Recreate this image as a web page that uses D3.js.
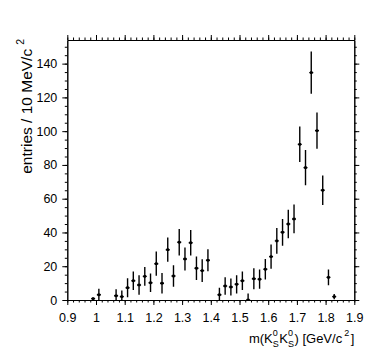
<!DOCTYPE html>
<html>
<head>
<meta charset="utf-8">
<script src="https://cdn.jsdelivr.net/npm/d3@7"></script>
<style>
  body { margin: 0; background: #fff; }
  svg { display: block; }
  text { font-family: "Liberation Sans", Arial, Helvetica, sans-serif; fill: #000; }
</style>
</head>
<body>
<div id="chart"></div>
<script>
// bin centres in GeV/c^2, entries and their errors
const mass = [0.99, 1.01, 1.07, 1.09, 1.11, 1.13, 1.15, 1.17, 1.19, 1.21, 1.23, 1.25,
  1.27, 1.29, 1.31, 1.33, 1.35, 1.37, 1.39, 1.43, 1.45, 1.47, 1.49, 1.51, 1.53, 1.55,
  1.57, 1.59, 1.61, 1.63, 1.65, 1.67, 1.69, 1.71, 1.73, 1.75, 1.77, 1.79, 1.81, 1.83];
const entries = [0.8, 3.1, 2.5, 2.0, 7.3, 11.4, 8.9, 14.0, 10.2, 21.5, 9.9, 29.8,
  14.2, 34.2, 24.3, 33.9, 18.8, 17.4, 23.5, 3.1, 8.3, 7.7, 9.3, 11.4, 0, 12.6,
  12.3, 18.2, 25.7, 35.0, 40.1, 45.0, 48.0, 92.2, 78.4, 134.7, 100.3, 65.0, 13.4, 2.0];
const errors = [0.7, 3.5, 3.8, 3.7, 5.6, 5.5, 5.8, 5.5, 5.5, 7.2, 6.1, 7.2,
  6.4, 7.9, 6.8, 7.6, 7.0, 6.7, 6.5, 4.2, 5.2, 5.0, 5.4, 5.5, 3.8, 6.2,
  5.7, 6.1, 7.2, 7.6, 7.9, 8.4, 8.5, 10.5, 10.4, 12.5, 10.7, 8.8, 4.7, 1.6];
const xTicks = [0.9, 1, 1.1, 1.2, 1.3, 1.4, 1.5, 1.6, 1.7, 1.8, 1.9];
const yTicks = [0, 20, 40, 60, 80, 100, 120, 140];

const width = 382, height = 358;
const margin = {top: 40, right: 27.7, bottom: 58, left: 67.3};
const fontSize = 12.5;

const points = mass.map((m, i) => ({m, n: entries[i], e: errors[i]}));

const svg = d3.select('#chart').append('svg')
  .attr('width', width)
  .attr('height', height);

const x = d3.scaleLinear().domain([0.9, 1.9]).range([margin.left, width - margin.right]);
const y = d3.scaleLinear().domain([0, 154]).range([height - margin.bottom, margin.top]);

// frame axes, all ticks pointing outwards like the original
const xMinor = d3.range(0.9, 1.9001, 0.02).map((v) => +v.toFixed(2));
const yMinor = d3.range(0, 155, 5);

function addAxis(axis, transform) {
  const g = svg.append('g').attr('transform', transform).call(axis);
  g.select('.domain').attr('stroke', '#000').attr('stroke-width', 1);
  g.selectAll('.tick line').attr('stroke', '#000');
  g.selectAll('.tick text').style('font-size', fontSize + 'px')
    .style('font-family', '"Liberation Sans", Arial, sans-serif');
  return g;
}

// minor ticks first (no labels)
addAxis(d3.axisBottom(x).tickValues(xMinor).tickSize(2.5).tickFormat('').tickSizeOuter(0),
  `translate(0,${y(0)})`);
addAxis(d3.axisTop(x).tickValues(xMinor).tickSize(2.5).tickFormat('').tickSizeOuter(0),
  `translate(0,${margin.top})`);
addAxis(d3.axisLeft(y).tickValues(yMinor).tickSize(2.5).tickFormat('').tickSizeOuter(0),
  `translate(${margin.left},0)`);
addAxis(d3.axisRight(y).tickValues(yMinor).tickSize(2.5).tickFormat('').tickSizeOuter(0),
  `translate(${width - margin.right},0)`);

// major ticks
addAxis(d3.axisBottom(x).tickValues(xTicks).tickSize(5).tickPadding(8).tickSizeOuter(0)
  .tickFormat(d3.format('~g')), `translate(0,${y(0)})`);
addAxis(d3.axisTop(x).tickValues(xTicks).tickSize(5).tickFormat('').tickSizeOuter(0),
  `translate(0,${margin.top})`);
addAxis(d3.axisLeft(y).tickValues(yTicks).tickSize(5).tickPadding(5).tickSizeOuter(0),
  `translate(${margin.left},0)`);
addAxis(d3.axisRight(y).tickValues(yTicks).tickSize(5).tickFormat('').tickSizeOuter(0),
  `translate(${width - margin.right},0)`);

// data points with error bars (clipped to the frame)
svg.append('clipPath').attr('id', 'frame').append('rect')
  .attr('x', margin.left).attr('y', margin.top)
  .attr('width', width - margin.left - margin.right)
  .attr('height', height - margin.top - margin.bottom);

const pts = svg.append('g').attr('clip-path', 'url(#frame)')
  .selectAll('g').data(points).join('g');

pts.append('line')
  .attr('x1', (d) => x(d.m)).attr('x2', (d) => x(d.m))
  .attr('y1', (d) => y(d.n - d.e)).attr('y2', (d) => y(d.n + d.e))
  .attr('stroke', '#000').attr('stroke-width', 1.4);
pts.append('line')
  .attr('x1', (d) => x(d.m) - 2).attr('x2', (d) => x(d.m) + 2)
  .attr('y1', (d) => y(d.n)).attr('y2', (d) => y(d.n))
  .attr('stroke', '#000').attr('stroke-width', 1.4);
pts.append('rect')
  .attr('x', (d) => x(d.m) - 1.3).attr('y', (d) => y(d.n) - 1.3)
  .attr('width', 2.6).attr('height', 2.6).attr('fill', '#000');

// y title: entries / 10 MeV/c^2 (rotated, right aligned to top of axis)
const yTitle = svg.append('text')
  .attr('transform', `translate(32,${margin.top - 1}) rotate(-90)`)
  .attr('text-anchor', 'end')
  .style('font-size', '15.5px');
yTitle.append('tspan').text('entries / 10 MeV/c');
yTitle.append('tspan').attr('dx', 4).attr('dy', -8).style('font-size', '10.5px').text('2');

// x title: m(K0S K0S) [GeV/c^2], built from pieces and right aligned
const xTitle = svg.append('g');
const base = 343;
let cursor = 0;
function piece(str, size, dy) {
  const t = xTitle.append('text').attr('x', cursor).attr('y', base + dy)
    .style('font-size', size + 'px').text(str);
  return t.node().getComputedTextLength();
}
function plain(str) { cursor += piece(str, 13, 0); }
function stacked(sup, sub) {
  const w1 = piece(sup, 9, -7);
  const w2 = piece(sub, 9, 4);
  cursor += Math.max(w1, w2) + 0.5;
}
plain('m(K');
stacked('0', 'S');
plain('K');
stacked('0', 'S');
plain(') [GeV/c');
cursor += 2;
cursor += piece('2', 9, -7) + 1.5;
plain(']');
xTitle.attr('transform', `translate(${width - margin.right - cursor},0)`);
</script>
</body>
</html>
